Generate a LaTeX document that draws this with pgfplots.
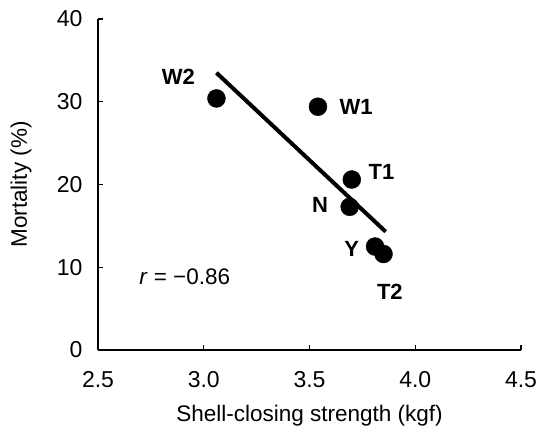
\documentclass[border=0pt]{standalone}
\usepackage{pgfplots}
\pgfplotsset{compat=1.18}
\usepackage{fontspec}
\setmainfont{Liberation Sans}

\begin{document}
\begin{tikzpicture}
\begin{axis}[width=423pt, height=331pt, scale only axis,
  xmin=2.5, xmax=4.5, ymin=0, ymax=40,
  xtick={2.5,3.0,...,4.5}, ytick={0,10,...,40},
  x tick label style={/pgf/number format/fixed, /pgf/number format/fixed zerofill,
    /pgf/number format/precision=1},
  /pgf/number format/assume math mode=true,
  axis x line*=bottom, axis y line*=left,
  axis line style={line width=1.8pt},
  tick style={line width=1.4pt, black}, tick align=inside, major tick length=5pt,
  every tick label/.append style={font=\fontsize{23}{26}\selectfont},
  every x tick label/.append style={yshift=-18pt},
  every y tick label/.append style={xshift=-12pt},
  label style={font=\fontsize{22.5}{26}\selectfont},
  xlabel={Shell-closing strength (kgf)}, ylabel={Mortality (\%)},
  xlabel style={at={(axis description cs:0.5,-0.2175)}, anchor=base},
  ylabel style={at={(axis description cs:-0.182,0.5)}, anchor=center},
  clip=false]
\addplot[only marks, mark=*, mark size=9pt, black] coordinates {
  (3.06,30.4) (3.54,29.4) (3.70,20.6) (3.69,17.3) (3.81,12.5) (3.85,11.6)};
\addplot[black, line width=4pt] coordinates {(3.06,33.5) (3.86,14.3)};
\begin{scope}[every node/.style={font=\fontsize{22}{26}\selectfont\bfseries}]
\node at (axis cs:2.88,33.0) {W2};
\node at (axis cs:3.72,29.4) {W1};
\node at (axis cs:3.84,21.5) {T1};
\node at (axis cs:3.55,17.5) {N};
\node at (axis cs:3.70,12.2) {Y};
\node at (axis cs:3.88,7.0) {T2};
\end{scope}
\node[font=\fontsize{22.5}{26}\selectfont] at (axis cs:2.91,8.9) {\textit{r} = −0.86};
\end{axis}
\pgfresetboundingbox
\path[use as bounding box] (-98pt,-77pt) rectangle (441pt,350pt);
\end{tikzpicture}
\end{document}
